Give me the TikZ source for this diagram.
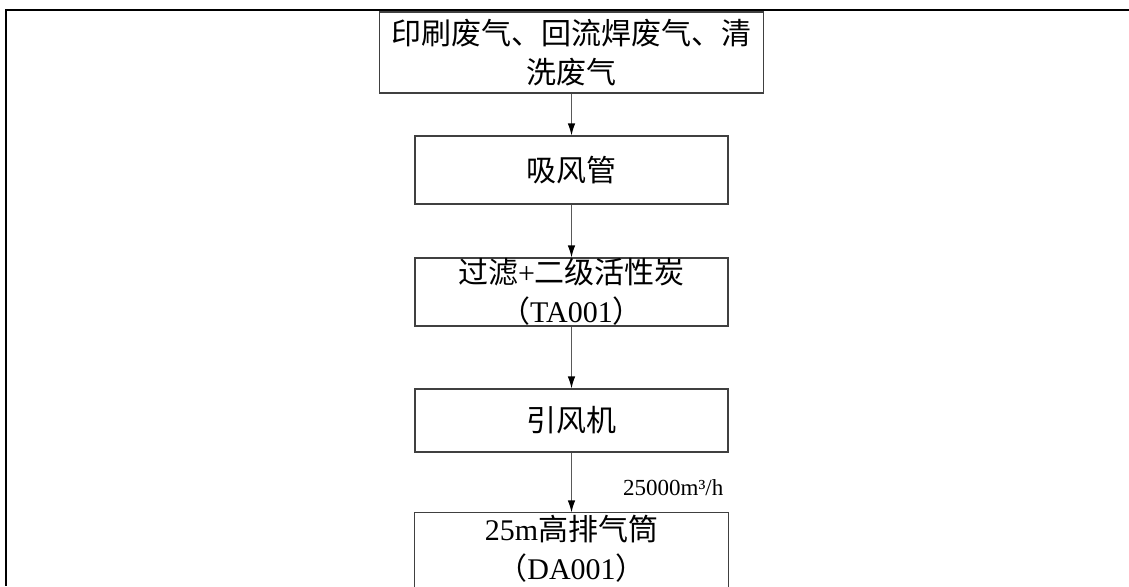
\documentclass[tikz,border=0pt]{standalone}
\usepackage{fontspec}
\setmainfont{Noto Sans CJK SC}
\newfontfamily\latfont{Liberation Serif}
\usetikzlibrary{arrows.meta}
\tikzset{
  stage/.style={draw=black!75, line width=0.6pt, inner sep=0pt, align=center,
    minimum width=156.5pt, minimum height=34pt,
    font=\fontsize{15pt}{19.5pt}\selectfont},
  flow/.style={draw=black!65, line width=0.6pt, -{Latex[length=6pt,width=3.8pt,black]}},
  rate/.style={anchor=west, inner sep=0pt, font=\fontsize{11.5pt}{14pt}\selectfont\latfont}
}

\begin{document}
\begin{tikzpicture}[x=0.5pt,y=0.5pt]
  \useasboundingbox (0,0) rectangle (1129,-586);
  % frame
  \draw[line width=1pt] (1129,-10) -- (6,-10) -- (6,-586);
  % stages
  \node[stage, minimum width=192pt, minimum height=40.5pt] (src) at (571.5,-52.5) {印刷废气、回流焊废气、清\\洗废气};
  \node[stage] (duct) at (571.5,-170) {吸风管};
  \node[stage] (filter) at (571.5,-292) {过滤{\latfont +}二级活性炭\\（{\latfont TA001}）};
  \node[stage, minimum height=31.5pt] (fan) at (571.5,-420.5) {引风机};
  \node[stage, draw=none, minimum height=35.5pt] (stack) at (571.5,-548.5) {{\latfont 25m}高排气筒\\（{\latfont DA001}）};
  \draw[black!75, line width=0.6pt] ([yshift=-20pt]stack.south west) |- (stack.north east) -- ([yshift=-20pt]stack.south east);
  % flow
  \draw[flow] (src) -- (duct);
  \draw[flow] (duct) -- (filter);
  \draw[flow] (filter) -- (fan);
  \draw[flow] (fan) -- node[rate, pos=0.59, xshift=25.5pt] {25000m³/h} (stack);
\end{tikzpicture}
\end{document}
